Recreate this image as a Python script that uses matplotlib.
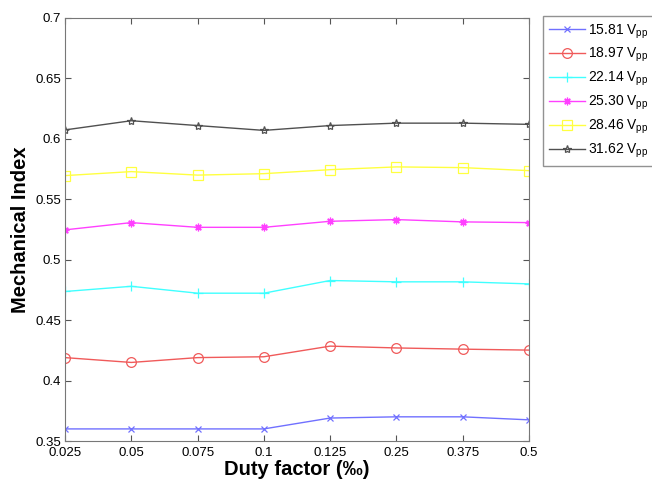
import matplotlib
matplotlib.use("Agg")
import matplotlib.pyplot as plt

plt.rcParams['font.family'] = ['Liberation Sans', 'DejaVu Sans']

duty_labels = ['0.025', '0.05', '0.075', '0.1', '0.125', '0.25', '0.375', '0.5']
series_names = ['15.81 V$_{\\mathregular{pp}}$', '18.97 V$_{\\mathregular{pp}}$', '22.14 V$_{\\mathregular{pp}}$',
                '25.30 V$_{\\mathregular{pp}}$', '28.46 V$_{\\mathregular{pp}}$', '31.62 V$_{\\mathregular{pp}}$']
v1581 = [0.360, 0.360, 0.360, 0.360, 0.369, 0.370, 0.370, 0.3675]
v1897 = [0.419, 0.415, 0.419, 0.4197, 0.4285, 0.427, 0.426, 0.4252]
v2214 = [0.4737, 0.478, 0.4723, 0.4723, 0.4828, 0.4817, 0.4817, 0.480]
v2530 = [0.5247, 0.5307, 0.5268, 0.5268, 0.5318, 0.5332, 0.5313, 0.5307]
v2846 = [0.5696, 0.5729, 0.570, 0.5712, 0.5745, 0.5768, 0.5762, 0.5737]
v3162 = [0.6074, 0.615, 0.611, 0.607, 0.611, 0.613, 0.613, 0.612]

data = [v1581, v1897, v2214, v2530, v2846, v3162]
colors = ['#7070ff', '#f05a5a', '#40ffff', '#ff40ff', '#ffff40', '#505050']
markers = ['x', 'o', '+', (8, 2, 0), 's', '*']
msizes = [4, 7, 7, 5.5, 6.5, 6]

fig = plt.figure(figsize=(6.52, 4.82), dpi=100)
ax = fig.add_axes([65/652, 41/482, 464/652, 423/482])
x = list(range(len(duty_labels)))
for vals, c, m, ms, name in zip(data, colors, markers, msizes, series_names):
    ax.plot(x, vals, color=c, marker=m, markersize=ms, markerfacecolor='none',
            markeredgecolor=c, markeredgewidth=0.9, linewidth=1.0, label=name)

ax.set_xlim(0, 7)
ax.set_ylim(0.35, 0.7)
ax.set_xticks(x)
ax.set_xticklabels(duty_labels)
ax.set_yticks([0.35, 0.4, 0.45, 0.5, 0.55, 0.6, 0.65, 0.7])
ax.set_yticklabels(['0.35', '0.4', '0.45', '0.5', '0.55', '0.6', '0.65', '0.7'])
ax.tick_params(direction='in', top=True, right=True, labelsize=9.5, length=4,
               color='#555555')
ax.tick_params(axis='x', pad=4)
ax.tick_params(axis='y', pad=3)
for s in ax.spines.values():
    s.set_color('#777777')
ax.set_xlabel('Duty factor (‰)', fontsize=14.5, fontweight='bold', labelpad=1)
ax.set_ylabel('Mechanical Index', fontsize=14.5, fontweight='bold', labelpad=4)

leg = fig.legend(loc='upper left', bbox_to_anchor=(543/652, 1 - 16/482),
                 fontsize=10, fancybox=False, edgecolor='#777777',
                 handlelength=2.6, labelspacing=0.4, borderpad=0.45,
                 handletextpad=0.2, borderaxespad=0)
leg.get_frame().set_linewidth(1.0)

fig.savefig('out.png', dpi=100)
